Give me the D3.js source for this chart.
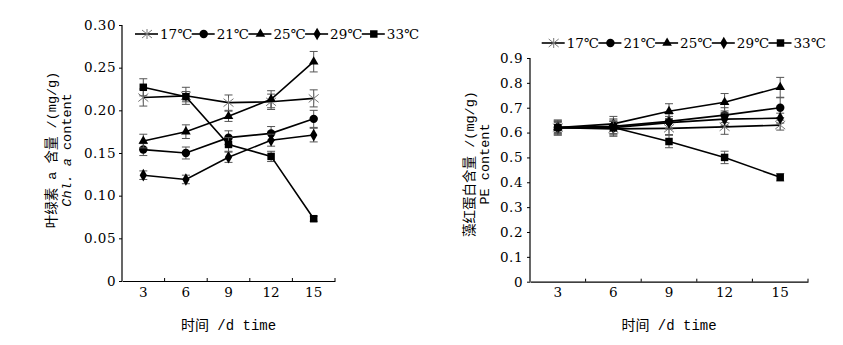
<!DOCTYPE html>
<html>
<head>
<meta charset="utf-8">
<script src="https://cdn.jsdelivr.net/npm/d3@7"></script>
<style>
  body { margin: 0; background: #fff; }
  svg { display: block; }
  text { font-family: "Liberation Mono", "Noto Sans CJK SC", monospace; fill: #000; }
  .num text, text.num { font-family: "DejaVu Serif", "Noto Sans CJK SC", serif; font-size: 13.5px; }
  .ytick text { letter-spacing: 0.5px; }
</style>
</head>
<body>
<svg id="chart" width="843" height="345"></svg>
<script>
// 天数
const days = [3, 6, 9, 12, 15];
const seriesNames = ["17℃", "21℃", "25℃", "29℃", "33℃"];
const markerTypes = ["asterisk", "circle", "triangle", "diamond", "square"];

// 叶绿素 a 含量 (mg/g)
const chlMean = [
  [0.215, 0.217, 0.209, 0.210, 0.214],
  [0.154, 0.150, 0.168, 0.173, 0.190],
  [0.164, 0.175, 0.193, 0.213, 0.257],
  [0.124, 0.119, 0.145, 0.165, 0.171],
  [0.227, 0.216, 0.160, 0.146, 0.073]
];
const chlErr = [
  [0.010, 0.010, 0.009, 0.009, 0.010],
  [0.007, 0.007, 0.008, 0.008, 0.010],
  [0.008, 0.008, 0.006, 0.010, 0.012],
  [0.005, 0.005, 0.006, 0.007, 0.008],
  [0.010, 0.006, 0.008, 0.006, 0.003]
];
const chlTicks = [0, 0.05, 0.10, 0.15, 0.20, 0.25, 0.30];

// 藻红蛋白含量 (mg/g)
const peMean = [
  [0.620, 0.615, 0.617, 0.623, 0.630],
  [0.620, 0.625, 0.645, 0.670, 0.700],
  [0.620, 0.635, 0.686, 0.722, 0.782],
  [0.620, 0.620, 0.640, 0.654, 0.658],
  [0.620, 0.620, 0.564, 0.500, 0.420]
];
const peErr = [
  [0.030, 0.030, 0.025, 0.030, 0.020],
  [0.025, 0.030, 0.030, 0.030, 0.040],
  [0.025, 0.030, 0.030, 0.035, 0.040],
  [0.020, 0.025, 0.025, 0.025, 0.020],
  [0.030, 0.030, 0.025, 0.025, 0.015]
];
const peTicks = [0, 0.1, 0.2, 0.3, 0.4, 0.5, 0.6, 0.7, 0.8, 0.9];

const svg = d3.select("#chart");

// 画标记
function drawMarker(g, type, x, y) {
  if (type === "asterisk") {
    const r = 5;
    const p = g.append("g").attr("transform", `translate(${x},${y})`)
      .attr("stroke", "#777").attr("stroke-width", 1);
    p.append("line").attr("x1", 0).attr("y1", -r).attr("x2", 0).attr("y2", r);
    p.append("line").attr("x1", -r).attr("y1", -r * 0.8).attr("x2", r).attr("y2", r * 0.8);
    p.append("line").attr("x1", -r).attr("y1", r * 0.8).attr("x2", r).attr("y2", -r * 0.8);
    return;
  }
  const sym = {
    circle: [d3.symbolCircle, 56],
    triangle: [d3.symbolTriangle, 40],
    diamond: [d3.symbolDiamond, 46],
    square: [d3.symbolSquare, 56]
  }[type];
  g.append("path")
    .attr("d", d3.symbol().type(sym[0]).size(sym[1]))
    .attr("transform", `translate(${x},${y})`)
    .attr("fill", "#000");
}

function drawPanel(opt) {
  const x = d3.scaleBand().domain(days).range([opt.x0, opt.x1]).padding(0);
  const y = d3.scaleLinear().domain([0, opt.yMax]).range([opt.y0, opt.y1]);
  const cx = d => x(d) + x.bandwidth() / 2;
  const g = svg.append("g");

  // 坐标轴
  const yAxis = g.append("g").attr("class", "num ytick").attr("transform", `translate(${opt.x0},0)`)
    .call(d3.axisLeft(y).tickValues(opt.ticks).tickSize(3).tickPadding(opt.tickPad)
      .tickFormat(d => d === 0 ? "0" : d3.format(opt.fmt)(d)));
  yAxis.select(".domain").attr("d", `M0,${opt.y0}V${opt.y1}`).attr("stroke-width", 1.2);

  const xAxis = g.append("g").attr("class", "num").attr("transform", `translate(0,${opt.y0})`)
    .call(d3.axisBottom(x).tickSize(0).tickPadding(6).tickSizeOuter(0).tickFormat(d => d)
      .tickValues(days));
  xAxis.selectAll(".tick").attr("transform", d => `translate(${cx(d)},0)`);
  xAxis.select(".domain").attr("stroke-width", 1.2);
  g.selectAll(".xb").data(days.slice(1).concat(["end"])).enter().append("line")
    .attr("x1", d => d === "end" ? opt.x1 : x(d)).attr("x2", d => d === "end" ? opt.x1 : x(d))
    .attr("y1", opt.y0).attr("y2", opt.y0 - 3).attr("stroke", "#000");

  // 轴标题
  g.append("text").attr("x", cx(9)).attr("y", 330).attr("text-anchor", "middle")
    .style("font-size", "14px").text("时间 /d time");
  g.append("text").attr("transform", `translate(${opt.labX},${opt.labY}) rotate(-90)`)
    .attr("text-anchor", "middle").style("font-size", "13.5px").text(opt.label1);
  const t2 = g.append("text").attr("transform", `translate(${opt.labX + 15},${opt.labY}) rotate(-90)`)
    .attr("text-anchor", "middle").style("font-size", "13.5px");
  opt.label2(t2);

  // 系列
  const line = d3.line().x((v, i) => cx(days[i])).y(v => y(v));
  opt.mean.forEach((vals, s) => {
    const sg = g.append("g");
    vals.forEach((v, i) => {
      const e = opt.err[s][i];
      const px = cx(days[i]);
      sg.append("line").attr("x1", px).attr("x2", px).attr("y1", y(v - e)).attr("y2", y(v + e))
        .attr("stroke", "#555");
      [v - e, v + e].forEach(c => sg.append("line").attr("x1", px - 4).attr("x2", px + 4)
        .attr("y1", y(c)).attr("y2", y(c)).attr("stroke", "#555"));
    });
    sg.append("path").attr("d", line(vals)).attr("fill", "none")
      .attr("stroke", "#000").attr("stroke-width", 1.6);
    vals.forEach((v, i) => drawMarker(sg, markerTypes[s], cx(days[i]), y(v)));
  });

  // 图例
  const lg = g.append("g");
  seriesNames.forEach((name, s) => {
    const tx = opt.legX + s * 56.7;
    lg.append("line").attr("x1", tx - 25).attr("x2", tx - 2)
      .attr("y1", opt.legY).attr("y2", opt.legY).attr("stroke", "#000").attr("stroke-width", 1.6);
    drawMarker(lg, markerTypes[s], tx - 13, opt.legY);
    lg.append("text").attr("class", "num").attr("x", tx).attr("y", opt.legY + 5)
      .text(name);
  });
}

drawPanel({
  x0: 122, x1: 335, y0: 281, y1: 25, yMax: 0.30, ticks: chlTicks, fmt: ".2f", tickPad: 3,
  mean: chlMean, err: chlErr, legX: 160, legY: 34, labX: 56, labY: 150,
  label1: "叶绿素 a 含量 /(mg/g)",
  label2: t => {
    t.append("tspan").style("font-style", "italic").text("Chl. a");
    t.append("tspan").text(" content");
  }
});

drawPanel({
  x0: 530, x1: 808, y0: 281.7, y1: 58, yMax: 0.9, ticks: peTicks, fmt: ".1f", tickPad: 4,
  mean: peMean, err: peErr, legX: 566.7, legY: 43, labX: 474, labY: 164,
  label1: "藻红蛋白含量 /(mg/g)",
  label2: t => t.text("PE content")
});
</script>
</body>
</html>
